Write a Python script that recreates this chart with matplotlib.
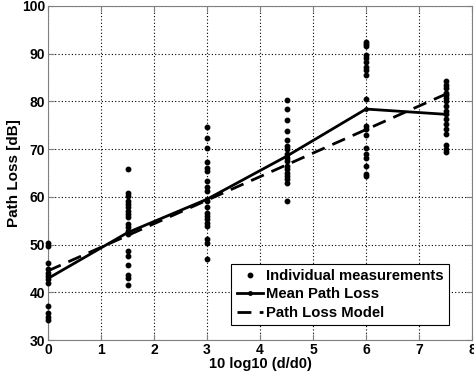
import matplotlib
matplotlib.use("Agg")
import matplotlib.pyplot as plt

plt.rcParams['font.family'] = ['Liberation Sans', 'DejaVu Sans']
plt.rcParams['font.weight'] = 'bold'

# Individual measurements per distance bin
x_bins = [0, 1.5, 3, 4.5, 6, 7.5]
meas = [
    [50.4, 49.6, 46.2, 44.9, 44.1, 43.4, 42.7, 42.0, 37.2, 35.6, 34.8, 34.1],
    [65.9, 60.9, 60.2, 59.1, 58.5, 57.8, 57.1, 56.4, 55.7, 54.3, 53.6, 52.8, 52.2,
     48.6, 47.6, 45.8, 43.7, 43.0, 41.6],
    [74.7, 72.3, 70.3, 67.2, 66.1, 65.4, 63.3, 62.0, 61.3, 59.2, 57.8, 56.7, 56.0,
     55.3, 54.6, 53.9, 51.1, 50.4, 46.9],
    [80.2, 78.4, 76.2, 73.8, 72.0, 70.7, 70.0, 68.9, 68.2, 67.5, 66.5, 65.8, 65.1,
     64.4, 63.7, 63.0, 59.1],
    [92.5, 92.0, 91.6, 89.7, 89.0, 88.2, 87.2, 86.5, 85.6, 80.5, 74.8, 74.2, 72.9,
     70.3, 68.9, 68.2, 66.5, 64.7, 64.4],
    [84.2, 83.5, 82.8, 81.8, 81.3, 80.8, 80.1, 79.0, 78.0, 77.4, 76.3, 75.3, 74.2,
     73.1, 70.8, 70.1, 69.3],
]
mean_pl = [42.9, 52.5, 59.5, 68.5, 78.4, 77.3]
model_pl = [44.5, 51.9, 59.3, 66.7, 74.1, 81.5]

fig = plt.figure(figsize=(4.74, 3.74), dpi=100)
ax = fig.add_axes([0.1013, 0.0909, 0.8945, 0.8931])

mx, my = [], []
for xb, vals in zip(x_bins, meas):
    mx += [xb] * len(vals)
    my += vals
ax.plot(mx, my, linestyle='none', marker='o', markersize=3.2, color='black',
        label='Individual measurements', zorder=3, clip_on=False)
ax.plot(x_bins, mean_pl, '-', color='black', linewidth=2, marker='.', markersize=5,
        label='Mean Path Loss', zorder=4, clip_on=False)
ax.plot(x_bins, model_pl, '--', color='black', linewidth=2, dashes=(5, 3),
        label='Path Loss Model', zorder=4, clip_on=False)

ax.set_xlim(0, 8)
ax.set_ylim(30, 100)
ax.set_xticks(range(0, 9))
ax.set_yticks(range(30, 101, 10))
ax.grid(True, linestyle=(0, (1, 2)), color='black', linewidth=0.8)
ax.tick_params(direction='in', top=True, right=True, labelsize=10, length=4,
               color='#808080', pad=2)
for sp in ax.spines.values():
    sp.set_color('#808080')
for lab in ax.get_xticklabels() + ax.get_yticklabels():
    lab.set_fontweight('bold')

ax.set_xlabel('10 log10 (d/d0)', fontsize=10.5, fontweight='bold', labelpad=0)
ax.set_ylabel('Path Loss [dB]', fontsize=11, fontweight='bold', labelpad=1)

leg = ax.legend(loc='lower right', bbox_to_anchor=(0.946, 0.045), borderaxespad=0,
                fontsize=10.7, frameon=True, fancybox=False, edgecolor='black',
                framealpha=1, handlelength=1.8, handletextpad=0.2, borderpad=0.35,
                labelspacing=0.3)
leg.get_frame().set_linewidth(0.8)
for t in leg.get_texts():
    t.set_fontweight('bold')

fig.savefig('out.png', dpi=100)
